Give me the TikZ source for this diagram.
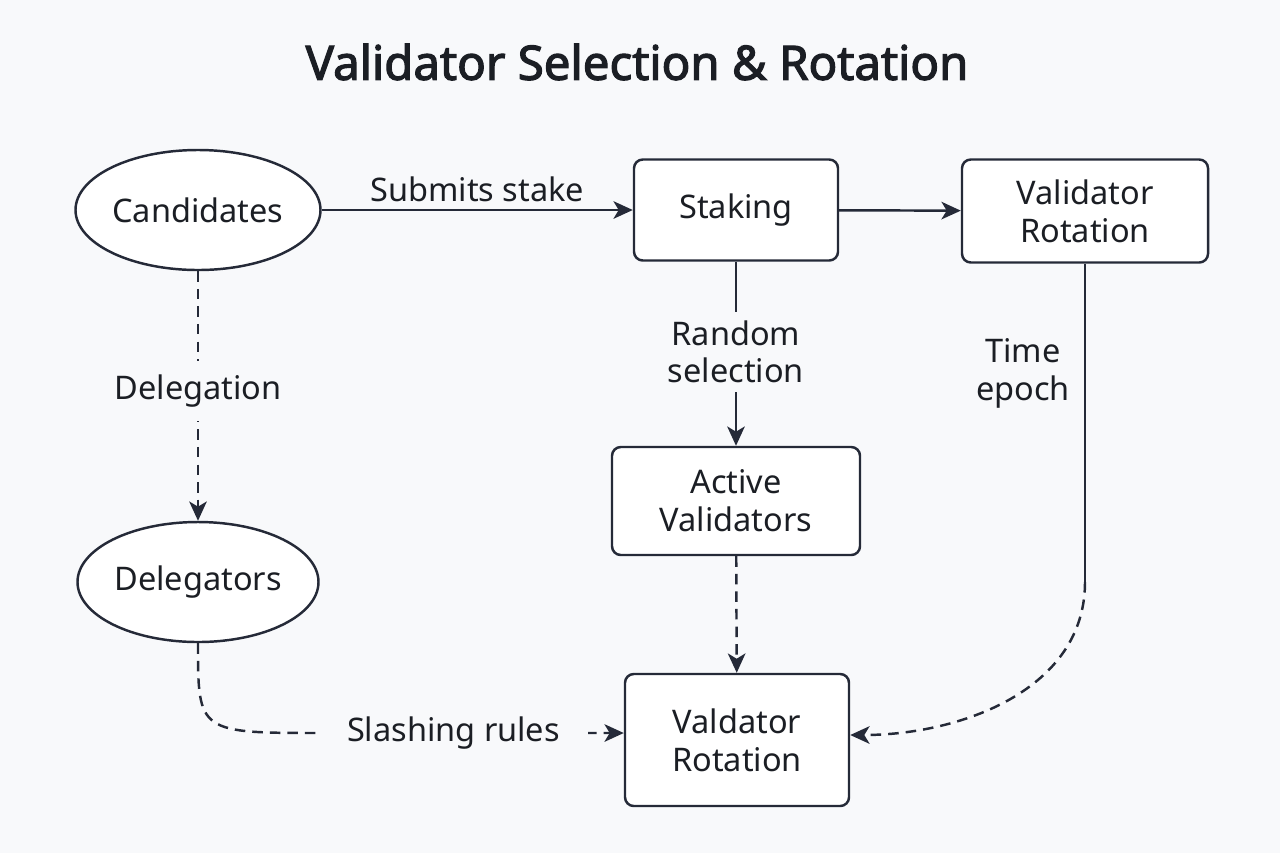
\documentclass[tikz,border=0pt]{standalone}
\usepackage{fontspec}
\setmainfont{Noto Sans}
\newfontfamily\headfont[FakeBold=2.5]{Noto Sans}
\usepackage{tikz}
\usetikzlibrary{shapes.geometric,arrows.meta}
\definecolor{bgcol}{HTML}{F8F9FB}
\definecolor{linecol}{HTML}{252A38}
\definecolor{txtcol}{HTML}{1B1E24}

\begin{document}
\begin{tikzpicture}[x=0.02cm,y=-0.02cm,
                   every node/.style={text=txtcol,font=\fontsize{18.5}{21.5}\selectfont},
                   actor/.style={ellipse,draw=linecol,line width=1.4pt,fill=white,inner sep=0pt,minimum width=245*0.02cm,minimum height=120*0.02cm},
                   stage/.style={rectangle,rounded corners=5pt,draw=linecol,line width=1.4pt,fill=white,align=center},
                   flow/.style={draw=linecol,line width=1.4pt,-{Stealth[length=11pt,width=10pt,inset=3pt]}},
                   soft/.style={flow,dash pattern=on 6pt off 4pt},
                   tag/.style={fill=bgcol,align=center,inner sep=4pt}]
\useasboundingbox[fill=bgcol] (0,0) rectangle (1280,853);
\node[font=\fontsize{27}{32}\headfont] (title) at (637,62) {Validator Selection \& Rotation};
% left column
\node[actor] (cand) at (198,210) {Candidates};
\node[actor,minimum width=241*0.02cm] (dlg) at (198,582) {Delegators};
% boxes
\node[stage,minimum width=204*0.02cm,minimum height=101*0.02cm] (stake) at (736,210) {Staking};
\node[stage,minimum width=246*0.02cm,minimum height=103*0.02cm] (rot) at (1085,211) {Validator\\Rotation};
\node[stage,minimum width=248*0.02cm,minimum height=108*0.02cm] (act) at (736,501) {Active\\Validators};
\node[stage,minimum width=224*0.02cm,minimum height=132*0.02cm] (rot2) at (737,740) {Valdator\\Rotation};
\coordinate (bend) at (1085,582);
% links
\draw[flow] (cand) -- node[midway,above=0.14cm,inner sep=0pt] (submit) {Submits stake} (stake);
\draw[flow] (stake) -- (rot);
\draw[flow] (stake) -- node[tag,inner ysep=5pt,pos=0.49] (rnd) {Random\\selection} (act);
\draw[soft] (cand) -- node[tag,inner ysep=8pt,pos=0.48] (deleg) {Delegation} (dlg);
\draw[soft] (act) -- (rot2);
\draw[soft] (dlg.south) .. controls (198,733) .. (325,733) -- node[tag,inner xsep=16pt,pos=0.43] (slash) {Slashing rules} ([yshift=0.14cm]rot2.west);
\draw[draw=linecol,line width=1.4pt] (rot) -- node[pos=0.345,left,align=center,inner sep=8pt] (epoch) {Time\\epoch} (bend);
\draw[soft] (bend) .. controls (1085,690) and (960,735) .. ([yshift=0.1cm]rot2.east);
\end{tikzpicture}
\end{document}
